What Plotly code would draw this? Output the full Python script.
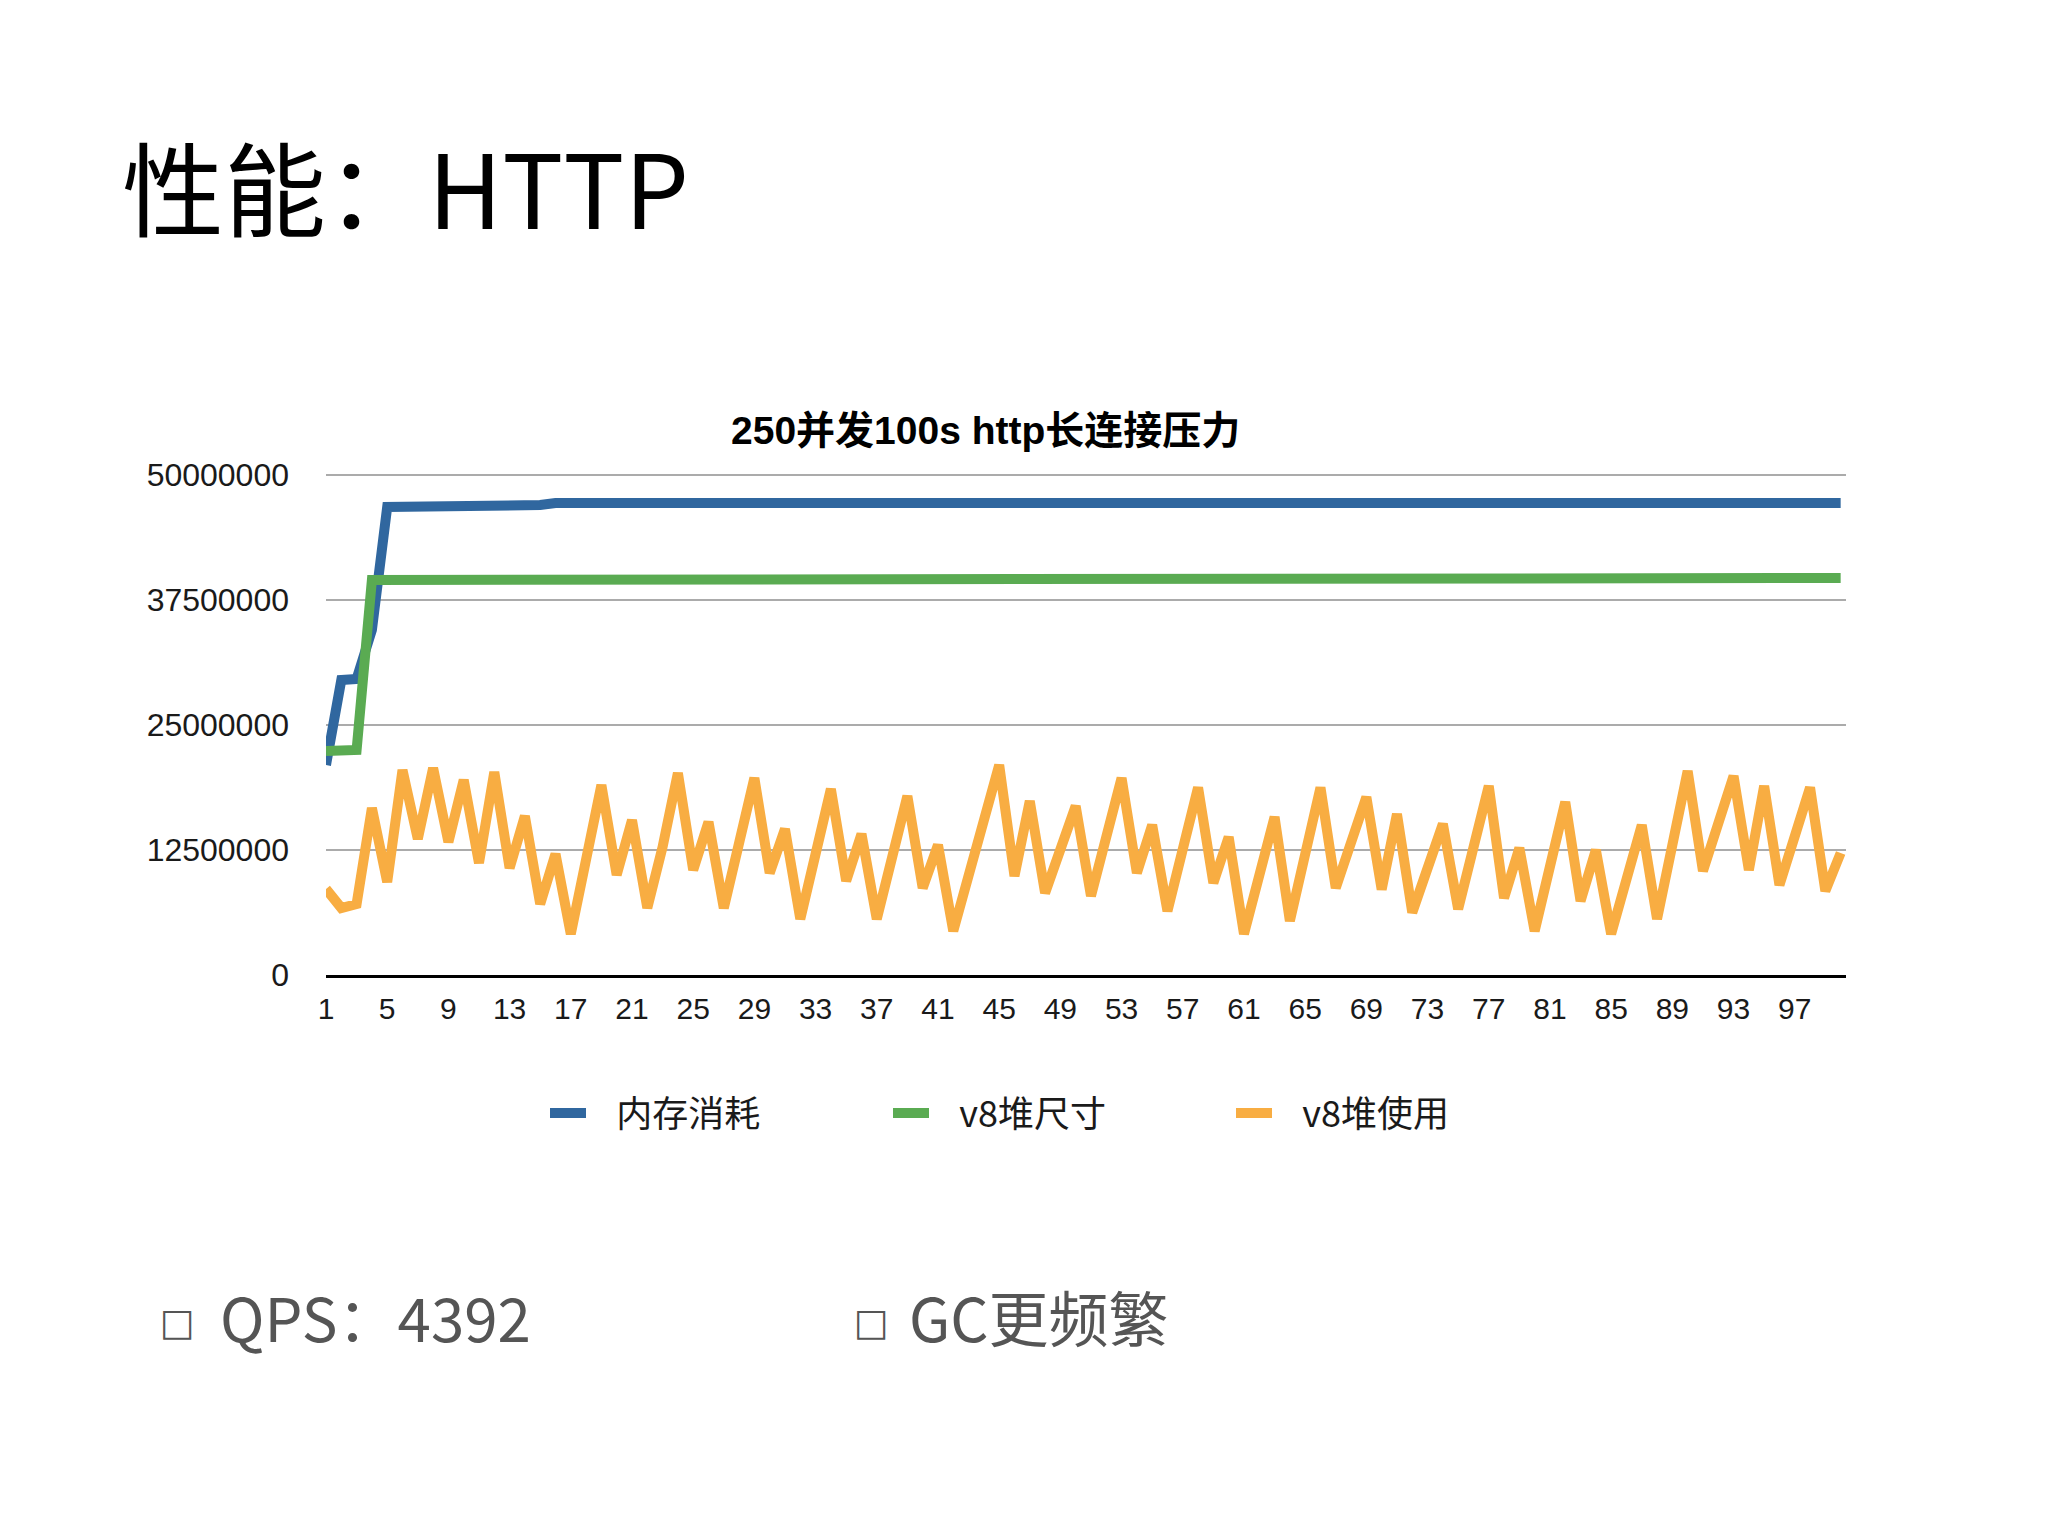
import plotly.graph_objects as go

# ---------------- data ----------------
categories = list(range(1, 101))

mem_usage = [  # 内存消耗
    21000000, 29500000, 29600000, 34500000, 46800000, 46800000, 46800000, 46800000, 46800000, 46800000,
    46800000, 46800000, 46800000, 46800000, 47000000, 47200000, 47200000, 47200000, 47200000, 47200000,
    47200000, 47200000, 47200000, 47200000, 47200000, 47200000, 47200000, 47200000, 47200000, 47200000,
    47200000, 47200000, 47200000, 47200000, 47200000, 47200000, 47200000, 47200000, 47200000, 47200000,
    47200000, 47200000, 47200000, 47200000, 47200000, 47200000, 47200000, 47200000, 47200000, 47200000,
    47200000, 47200000, 47200000, 47200000, 47200000, 47200000, 47200000, 47200000, 47200000, 47200000,
    47200000, 47200000, 47200000, 47200000, 47200000, 47200000, 47200000, 47200000, 47200000, 47200000,
    47200000, 47200000, 47200000, 47200000, 47200000, 47200000, 47200000, 47200000, 47200000, 47200000,
    47200000, 47200000, 47200000, 47200000, 47200000, 47200000, 47200000, 47200000, 47200000, 47200000,
    47200000, 47200000, 47200000, 47200000, 47200000, 47200000, 47200000, 47200000, 47200000, 47200000,
]

heap_total = [  # v8堆尺寸
    22400000, 22400000, 22500000, 39500000, 39500000, 39500000, 39500000, 39500000, 39500000, 39500000,
    39500000, 39500000, 39500000, 39500000, 39600000, 39700000, 39700000, 39700000, 39700000, 39700000,
    39700000, 39700000, 39700000, 39700000, 39700000, 39700000, 39700000, 39700000, 39700000, 39700000,
    39700000, 39700000, 39700000, 39700000, 39700000, 39700000, 39700000, 39700000, 39700000, 39700000,
    39700000, 39700000, 39700000, 39700000, 39700000, 39700000, 39700000, 39700000, 39700000, 39700000,
    39700000, 39700000, 39700000, 39700000, 39700000, 39700000, 39700000, 39700000, 39700000, 39700000,
    39700000, 39700000, 39700000, 39700000, 39700000, 39700000, 39700000, 39700000, 39700000, 39700000,
    39700000, 39700000, 39700000, 39700000, 39700000, 39700000, 39700000, 39700000, 39700000, 39700000,
    39700000, 39700000, 39700000, 39700000, 39700000, 39700000, 39700000, 39700000, 39700000, 39700000,
    39700000, 39700000, 39700000, 39700000, 39700000, 39700000, 39700000, 39700000, 39700000, 39700000,
]

heap_used = [  # v8堆使用
    8600000, 6700000, 7100000, 16700000, 9300000, 20500000, 13600000, 20700000, 13300000, 19500000,
    11200000, 20300000, 10700000, 15900000, 7100000, 12100000, 4100000, 11500000, 19000000, 10000000,
    15500000, 6700000, 12800000, 20200000, 10500000, 15300000, 6700000, 13200000, 19700000, 10200000,
    14600000, 5600000, 12200000, 18600000, 9400000, 14100000, 5600000, 11800000, 17900000, 8700000,
    13000000, 4400000, 9900000, 15500000, 21000000, 9900000, 17400000, 8200000, 12800000, 16900000,
    7900000, 13500000, 19700000, 10200000, 15000000, 6400000, 12500000, 18750000, 9200000, 13800000,
    4100000, 10200000, 15800000, 5400000, 12200000, 18750000, 8700000, 13200000, 17800000, 8550000,
    16100000, 6250000, 10900000, 15100000, 6600000, 13200000, 18900000, 7700000, 12700000, 4400000,
    10900000, 17300000, 7400000, 12500000, 4100000, 9900000, 15000000, 5600000, 13500000, 20400000,
    10400000, 15300000, 19900000, 10500000, 18900000, 9000000, 14000000, 18750000, 8400000, 12200000,
]

series_names = ["内存消耗", "v8堆尺寸", "v8堆使用"]
x_tick_vals = [1, 5, 9, 13, 17, 21, 25, 29, 33, 37, 41, 45, 49, 53, 57, 61, 65, 69, 73, 77, 81, 85, 89, 93, 97]
y_tick_vals = [0, 12500000, 25000000, 37500000, 50000000]
y_tick_text = ["0", "12500000", "25000000", "37500000", "50000000"]

page_title = "性能：HTTP"
chart_title = "250并发100s http长连接压力"
bullet_1 = "QPS：4392"
bullet_2 = "GC更频繁"

# ---------------- layout geometry (figure pixels) ----------------
W, H = 2048, 1536
L, R, T, B = 318, 1838, 465, 967


def px_x(px):
    return (px - L) / (R - L)


def px_y(py):
    return (B - py) / (B - T)


colors = ["#30679f", "#5aab52", "#f8ad42"]
widths = [10, 10, 10]
series = [mem_usage, heap_total, heap_used]
legend_pad = "\u2002\u2009"

fig = go.Figure()
for name, vals, c, w in zip(series_names, series, colors, widths):
    fig.add_trace(go.Scatter(
        x=categories, y=vals, name=legend_pad + name, mode="lines",
        line=dict(color=c, width=w, shape="linear"),
        hoverinfo="skip",
    ))

x_tick_font = dict(family="Liberation Sans, Arial, sans-serif", size=30, color="#1a1a1a")
y_tick_font = dict(family="Liberation Sans, Arial, sans-serif", size=32, color="#1a1a1a")

fig.update_layout(
    width=W, height=H,
    margin=dict(l=L, r=W - R, t=T, b=H - B, pad=0),
    paper_bgcolor="white", plot_bgcolor="white",
    showlegend=True,
    legend=dict(
        orientation="h",
        x=px_x(537), y=px_y(1105), xanchor="left", yanchor="middle",
        font=dict(family="Noto Sans CJK SC, sans-serif", size=36, color="#1a1a1a"),
        entrywidth=292, entrywidthmode="pixels",
        itemwidth=36,
        bgcolor="rgba(0,0,0,0)",
        traceorder="normal",
    ),
    xaxis=dict(
        range=[1, 100.35], tickmode="array", tickvals=x_tick_vals,
        ticktext=[str(v) for v in x_tick_vals],
        showgrid=False, zeroline=False,
        showline=True, linecolor="#000000", linewidth=3,
        ticks="", tickfont=x_tick_font, ticklabelstandoff=5,
    ),
    yaxis=dict(
        range=[0, 50200000], tickmode="array", tickvals=y_tick_vals, ticktext=y_tick_text,
        showgrid=True, gridcolor="#ababab", gridwidth=2,
        zeroline=False, showline=False,
        ticks="", tickfont=y_tick_font, ticklabelstandoff=36,
    ),
)

annotations = [
    dict(text=page_title, x=px_x(112), y=px_y(176), xanchor="left", yanchor="middle",
         font=dict(family="Noto Sans CJK SC, sans-serif", size=102, color="#000000")),
    dict(text="<b>" + chart_title + "</b>", x=px_x(977), y=px_y(422), xanchor="center", yanchor="middle",
         font=dict(family="Liberation Sans, Noto Sans CJK SC, sans-serif", size=39, color="#000000")),
    dict(text="□", x=px_x(150), y=px_y(1314), xanchor="left", yanchor="middle",
         font=dict(family="DejaVu Sans, sans-serif", size=37, color="#555555")),
    dict(text=bullet_1, x=px_x(210), y=px_y(1307), xanchor="left", yanchor="middle",
         font=dict(family="Noto Sans CJK SC, sans-serif", size=60, color="#555555")),
    dict(text="□", x=px_x(844), y=px_y(1314), xanchor="left", yanchor="middle",
         font=dict(family="DejaVu Sans, sans-serif", size=37, color="#555555")),
    dict(text=bullet_2, x=px_x(899), y=px_y(1307), xanchor="left", yanchor="middle",
         font=dict(family="Noto Sans CJK SC, sans-serif", size=60, color="#555555")),
]
for a in annotations:
    a.update(xref="paper", yref="paper", showarrow=False)
fig.update_layout(annotations=annotations)

fig.write_html("out.html")
